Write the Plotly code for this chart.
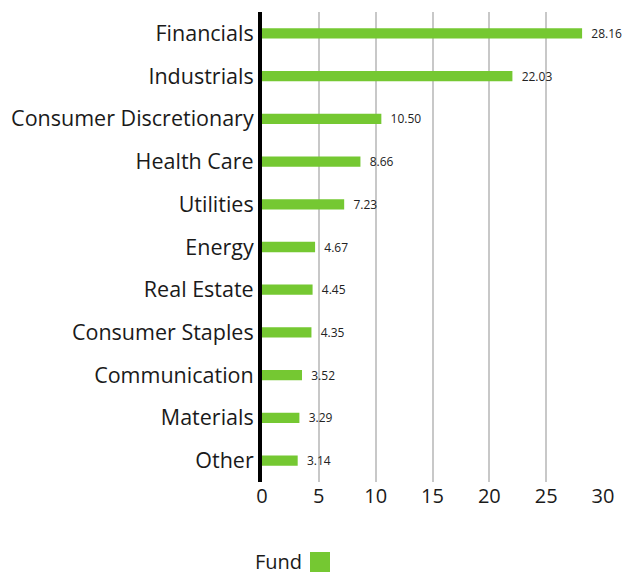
import plotly.graph_objects as go

categories = ["Financials", "Industrials", "Consumer Discretionary", "Health Care",
              "Utilities", "Energy", "Real Estate", "Consumer Staples",
              "Communication", "Materials", "Other"]
values = [28.16, 22.03, 10.50, 8.66, 7.23, 4.67, 4.45, 4.35, 3.52, 3.29, 3.14]
series_name = "Fund"
x_ticks = [0, 5, 10, 15, 20, 25, 30]

GREEN = "#75c832"
FONT = "Open Sans"

fig = go.Figure()
fig.add_trace(go.Bar(
    y=categories, x=values, orientation="h", name=series_name,
    marker=dict(color=GREEN, line=dict(width=0)),
    texttemplate="  %{x:.2f}", textposition="outside",
    constraintext="none",
    textfont=dict(size=12, color="#222222", family=FONT),
    cliponaxis=False, showlegend=False,
))

fig.update_layout(
    width=635, height=574,
    margin=dict(l=262, r=32, t=12, b=92),
    paper_bgcolor="white", plot_bgcolor="white",
    bargap=0.76,
    font=dict(family=FONT, color="#1a1a1a"),
    xaxis=dict(range=[0, 30], tickvals=x_ticks, showgrid=True,
               gridcolor="#c8c8c8", gridwidth=2, zeroline=False,
               tickfont=dict(size=20, color="#1a1a1a"), ticks="", showline=False),
    yaxis=dict(autorange="reversed", showline=True, linecolor="black", linewidth=4,
               tickfont=dict(size=21.5, color="#1a1a1a"), ticks="", showgrid=False,
               ticklabelstandoff=0),
)

fig.add_annotation(xref="paper", yref="paper", x=(304 - 262) / 341, y=(482 - 561) / 470,
                   text=series_name, showarrow=False, xanchor="right", yanchor="middle",
                   font=dict(size=20, color="#1a1a1a", family=FONT))
fig.add_shape(type="rect", xref="paper", yref="paper",
              x0=(310 - 262) / 341, x1=(330 - 262) / 341,
              y0=(482 - 552) / 470, y1=(482 - 572) / 470,
              fillcolor=GREEN, line=dict(width=0))

fig.write_html("out.html")
